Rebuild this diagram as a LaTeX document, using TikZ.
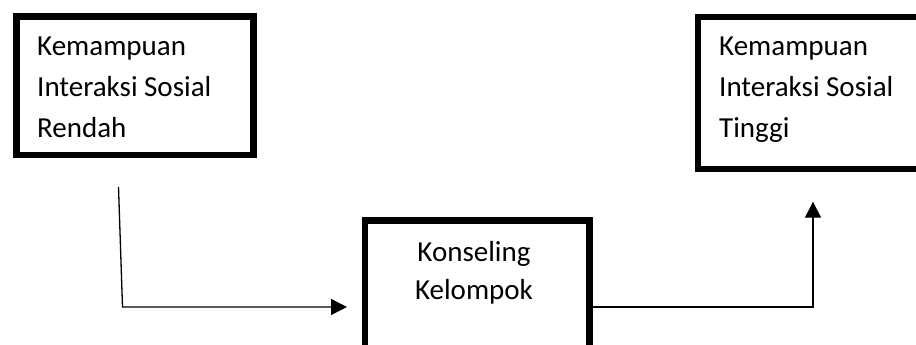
\documentclass[tikz,border=0pt]{standalone}
\usepackage{fontspec}
\setmainfont{Carlito}
\usetikzlibrary{arrows.meta}
\begin{document}
\begin{tikzpicture}[x=1pt,y=-1pt,
  boxline/.style={draw=black,line width=6.6pt,fill=none},
  lbl/.style={inner sep=0pt,align=left,font=\fontsize{29}{41}\selectfont},
  clbl/.style={inner sep=0pt,align=center,font=\fontsize{29}{37.7}\selectfont},
  conn/.style={draw=black,line width=1.3pt,-{Triangle[length=16pt,width=16pt]}}]
\useasboundingbox (0,0) rectangle (916,345);
% boxes
\node[boxline,inner sep=0pt,minimum width=236.7pt,minimum height=138.4pt,anchor=north west] (low) at (13.3,13.3) {};
\node[boxline,inner sep=0pt,minimum width=240pt,minimum height=151.2pt,anchor=north west,line width=6pt] (high) at (695,14.3) {};
\node[boxline,inner sep=0pt,minimum width=224.5pt,minimum height=150pt,anchor=north west,line width=6.8pt] (mid) at (361.5,216.7) {};
% texts (base anchor = last line's baseline)
\node[lbl,anchor=base west] (tlow) at (37,137) {Kemampuan\\Interaksi Sosial\\Rendah};
\node[lbl,anchor=base west] (thigh) at (719,137) {Kemampuan\\Interaksi Sosial\\Tinggi};
\node[clbl,anchor=base] (tmid) at (474,299.4) {Konseling\\Kelompok};
% connectors
\coordinate (s1) at (118.5,187);
\coordinate (c1) at (122.5,307);
\coordinate (e1) at (347,307);
\coordinate (s2) at (mid.east |- c1);
\coordinate (c2) at (813,307);
\coordinate (e2) at (813,201.7);
\draw[conn] (s1) -- (c1) -- (e1);
\draw[conn] (s2) -- (c2) -- (e2);
\end{tikzpicture}
\end{document}
